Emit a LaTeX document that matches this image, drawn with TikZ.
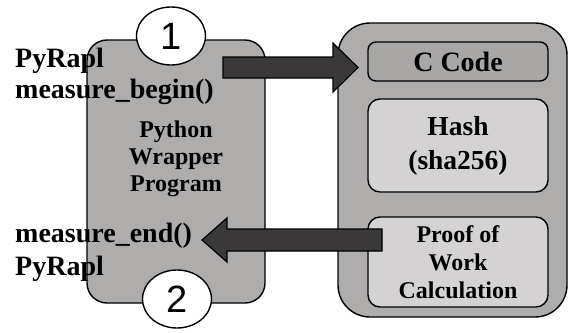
\documentclass[tikz,border=0pt]{standalone}
\usepackage{fontspec}
\setmainfont{Liberation Serif}
\newfontfamily\digitfont{Liberation Sans}
\usetikzlibrary{calc,shapes.geometric}

\definecolor{boxgrey}{HTML}{AFACAC}
\definecolor{codegrey}{HTML}{A9A6A6}
\definecolor{innergrey}{HTML}{D4D2D2}
\definecolor{arrowgrey}{HTML}{3A3838}

\tikzset{
  panel/.style={draw=black, line width=1.4pt, fill=boxgrey, inner sep=0pt},
  part/.style={draw=black, line width=1.4pt, fill=innergrey, rounded corners=12pt,
    minimum width=180pt, inner sep=0pt, align=center, font=\bfseries},
  marker/.style={ellipse, draw=black, line width=1.4pt, fill=white, inner sep=0pt,
    minimum width=69pt, minimum height=58pt, font=\digitfont\fontsize{38}{38}\selectfont},
  calllabel/.style={anchor=north west, inner sep=0pt, align=left, font=\bfseries},
  bigarrow/.style={draw=black, line width=1.2pt, fill=arrowgrey, line join=miter}
}

\begin{document}
\begin{tikzpicture}[x=1pt, y=-1pt]
\useasboundingbox (0,0) rectangle (569,332);

% the two program blocks
\node[panel, rounded corners=20pt, minimum width=178pt, minimum height=263pt]
  (wrapper) at (176,171.5) {};
\node[panel, rounded corners=32pt, minimum width=229pt, minimum height=294pt]
  (engine) at (452.5,170) {};

% parts of the C program
\node[part, fill=codegrey, rounded corners=8pt, minimum height=39pt,
  font=\bfseries\fontsize{28}{34}\selectfont] (ccode) at (458,61.5) {C Code};
\node[part, minimum height=93pt, font=\bfseries\fontsize{27.5}{34}\selectfont]
  (hash) at (458,145.5) {Hash\\(sha256)};
\node[part, minimum height=90pt, font=\bfseries\fontsize{24}{28}\selectfont]
  (pow) at (458,262) {Proof of\\Work\\Calculation};

% wrapper text
\node[align=center, inner sep=0pt, font=\bfseries\fontsize{24}{27}\selectfont]
  (wraptext) at (176,159) {Python\\Wrapper\\Program};

% step markers
\node[marker] (one) at (171,36) {1};
\node[marker] (two) at (177,299) {2};

% call arrows
\coordinate (a1tail) at (223,67.5);
\coordinate (a1tip) at (358,67.5);
\draw[bigarrow] ($(a1tail)+(0,-10.5)$) -- ($(a1tip)+(-25,-10.5)$)
  -- ($(a1tip)+(-25,-24.5)$) -- (a1tip) -- ($(a1tip)+(-25,24.5)$)
  -- ($(a1tip)+(-25,10.5)$) -- ($(a1tail)+(0,10.5)$) -- cycle;

\coordinate (a2tail) at (382,240);
\coordinate (a2tip) at (202,240);
\draw[bigarrow] ($(a2tail)+(0,-11)$) -- ($(a2tip)+(25,-11)$)
  -- ($(a2tip)+(25,-22)$) -- (a2tip) -- ($(a2tip)+(25,22)$)
  -- ($(a2tip)+(25,11)$) -- ($(a2tail)+(0,11)$) -- cycle;

% measurement calls
\node[calllabel, font=\bfseries\fontsize{28}{31}\selectfont]
  (beginlabel) at (15,48) {PyRapl\\measure\_begin()};
\node[calllabel, font=\bfseries\fontsize{28}{33}\selectfont]
  (endlabel) at (15,223) {measure\_end()\\PyRapl};
\end{tikzpicture}
\end{document}
